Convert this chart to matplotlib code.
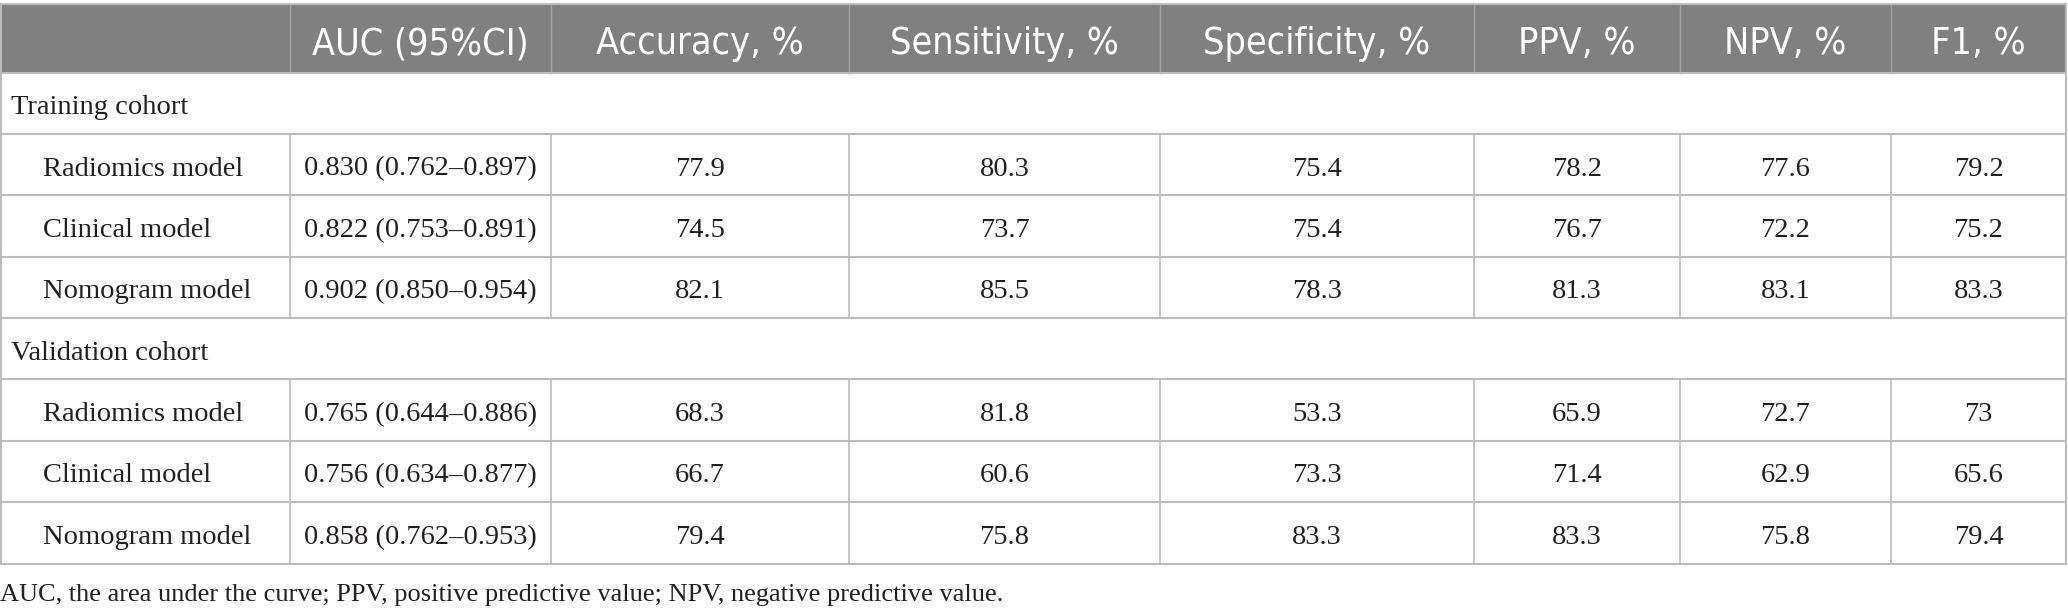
import matplotlib
matplotlib.use("Agg")
import matplotlib.pyplot as plt
from matplotlib.patches import Rectangle

headers = ["", "AUC (95%CI)", "Accuracy, %", "Sensitivity, %", "Specificity, %",
           "PPV, %", "NPV, %", "F1, %"]
cohorts = ["Training cohort", "Validation cohort"]
models = ["Radiomics model", "Clinical model", "Nomogram model"]
auc_training = ["0.830 (0.762–0.897)", "0.822 (0.753–0.891)", "0.902 (0.850–0.954)"]
auc_validation = ["0.765 (0.644–0.886)", "0.756 (0.634–0.877)", "0.858 (0.762–0.953)"]
metrics_training = [
    ["77.9", "80.3", "75.4", "78.2", "77.6", "79.2"],
    ["74.5", "73.7", "75.4", "76.7", "72.2", "75.2"],
    ["82.1", "85.5", "78.3", "81.3", "83.1", "83.3"],
]
metrics_validation = [
    ["68.3", "81.8", "53.3", "65.9", "72.7", "73"],
    ["66.7", "60.6", "73.3", "71.4", "62.9", "65.6"],
    ["79.4", "75.8", "83.3", "83.3", "75.8", "79.4"],
]
caption = "AUC, the area under the curve; PPV, positive predictive value; NPV, negative predictive value."

W, H = 2068, 616
fig = plt.figure(figsize=(W / 100, H / 100), dpi=100)
ax = fig.add_axes([0, 0, 1, 1])
ax.set_xlim(0, W)
ax.set_ylim(H, 0)
ax.axis("off")

col_x = [1, 290, 551, 849, 1160, 1474, 1680, 1891, 2066]
top = 4
head_bottom = 72.5
row_h = (563.5 - head_bottom) / 8
row_y = [top, head_bottom] + [head_bottom + row_h * (k + 1) for k in range(8)]

header_bg = "#808080"
line_c = "#bcbcbc"
text_c = "#231f20"
serif = ["Liberation Serif", "DejaVu Serif"]
sans = ["DejaVu Sans"]

# header
ax.add_patch(Rectangle((col_x[0], row_y[0]), col_x[-1] - col_x[0], row_y[1] - row_y[0],
                       facecolor=header_bg, edgecolor="none", zorder=1))
for i, h in enumerate(headers):
    cx = (col_x[i] + col_x[i + 1]) / 2
    ax.text(cx, 54, h, ha="center", va="baseline",
            color="white", fontsize=27, family=sans, fontstretch="condensed", zorder=3)

# build rows
rows = []
for cohort, aucs, mets in [(cohorts[0], auc_training, metrics_training),
                           (cohorts[1], auc_validation, metrics_validation)]:
    rows.append(("cohort", cohort, None))
    for m, a, vals in zip(models, aucs, mets):
        rows.append(("model", m, [a] + vals))

fs_body = 20.5
for r, (kind, label, vals) in enumerate(rows):
    y0, y1 = row_y[r + 1], row_y[r + 2]
    yb = y0 + 0.68 * (y1 - y0)
    if kind == "cohort":
        ax.text(col_x[0] + 10, yb, label, ha="left", va="baseline", color=text_c,
                fontsize=fs_body, family=serif, zorder=3)
    else:
        ax.text(col_x[0] + 42, yb, label, ha="left", va="baseline", color=text_c,
                fontsize=fs_body, family=serif, zorder=3)
        for j, v in enumerate(vals):
            cx = (col_x[j + 1] + col_x[j + 2]) / 2
            ax.text(cx, yb, v, ha="center", va="baseline", color=text_c,
                    fontsize=fs_body, family=serif, zorder=3)
        for x in col_x[1:-1]:
            ax.plot([x, x], [y0, y1], color=line_c, lw=1.2, zorder=2)

# header vertical lines
for x in col_x[1:-1]:
    ax.plot([x, x], [row_y[0], row_y[1]], color="#a3a3a3", lw=1.0, zorder=2)

# horizontal lines
for y in row_y:
    ax.plot([col_x[0], col_x[-1]], [y, y], color=line_c, lw=1.5, zorder=2)
# outer verticals
for x in (col_x[0], col_x[-1]):
    ax.plot([x, x], [row_y[0], row_y[-1]], color=line_c, lw=1.5, zorder=2)

ax.text(0, 601.5, caption, ha="left", va="baseline", color=text_c, fontsize=19,
        family=serif, zorder=3)

fig.savefig("out.png", dpi=100)
